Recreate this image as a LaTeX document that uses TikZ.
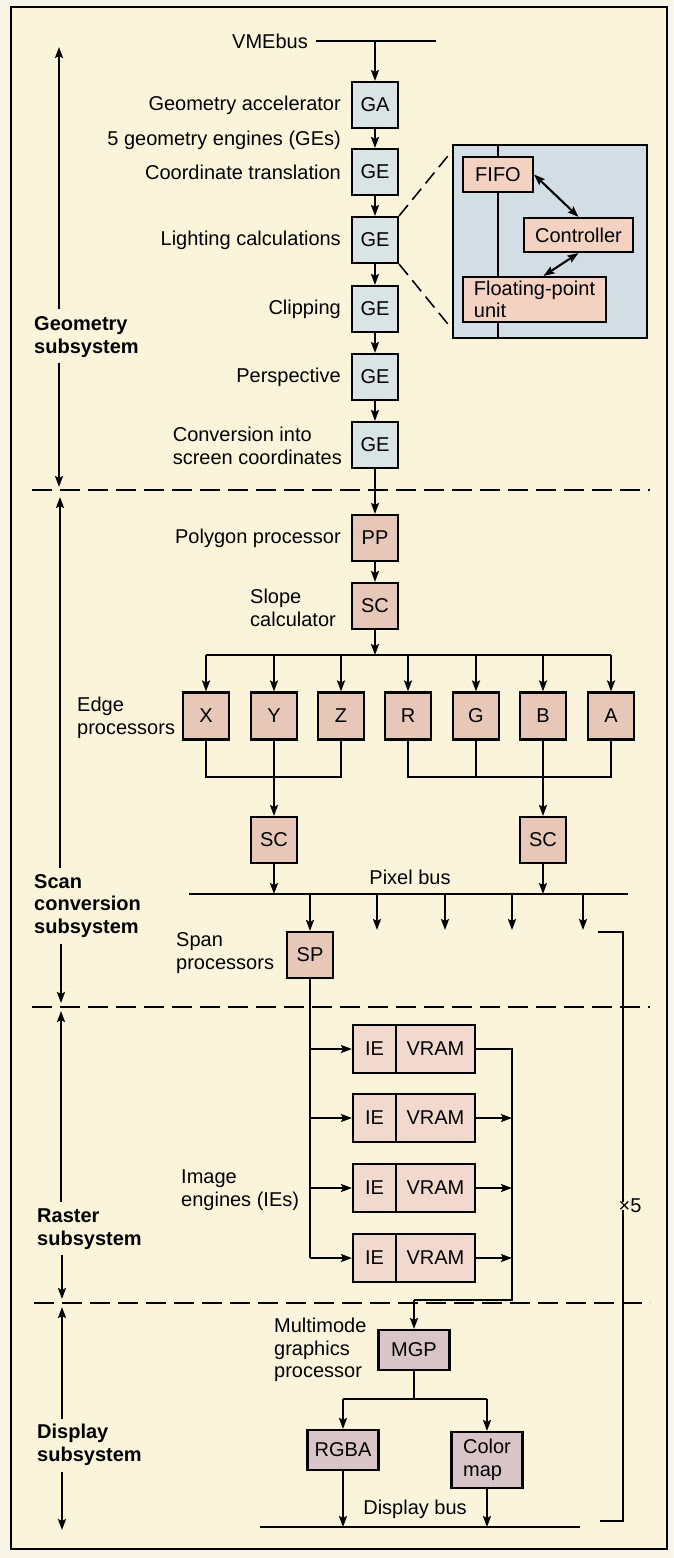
\documentclass[tikz,border=0pt]{standalone}
\usepackage{fontspec}
\setmainfont{Liberation Sans}
\usetikzlibrary{arrows.meta}

\definecolor{paper}{HTML}{F8F5E8}
\definecolor{cream}{HTML}{FAF5DA}
\definecolor{geofill}{HTML}{DAE4E5}
\definecolor{insetfill}{HTML}{D2DEE4}
\definecolor{peach}{HTML}{F4D2C2}
\definecolor{scanfill}{HTML}{E7C7B7}
\definecolor{iefill}{HTML}{F1DACD}
\definecolor{dispfill}{HTML}{D9C5C7}

\begin{document}
\begin{tikzpicture}[x=1pt,y=-1pt,
  txt/.style={font=\fontsize{20}{22.5}\selectfont, inner sep=0pt},
  lbl/.style={txt, align=left},
  subsys/.style={txt, align=left, font=\fontsize{20}{22.5}\selectfont\bfseries},
  wire/.style={line width=2.1pt},
  arr/.style={wire, -{Stealth[length=11pt,width=8pt,inset=2pt]}},
  dbl/.style={wire, {Stealth[length=11pt,width=8pt,inset=2pt]}-{Stealth[length=11pt,width=8pt,inset=2pt]}},
  divider/.style={line width=1.8pt, dash pattern=on 20pt off 8pt},
  zoomln/.style={line width=1.6pt, dash pattern=on 14pt off 7pt},
  blk/.style={draw, line width=2.1pt, txt, minimum width=46pt, minimum height=46pt},
  geo/.style={blk, fill=geofill},
  scan/.style={blk, fill=scanfill},
  ieb/.style={blk, fill=iefill, minimum height=48pt},
  disp/.style={blk, fill=dispfill, minimum width=71pt, minimum height=40pt},
  part/.style={blk, fill=peach}
]
% page and frame
\useasboundingbox (0,0) rectangle (673,1558);
\fill[paper] (0,0) rectangle (673,1558);
\draw[line width=2.8pt, fill=cream] (11,7) rectangle (667,1549);

% subsystem dividers
\coordinate (d1L) at (32,490);  \coordinate (d1R) at (650,490);
\coordinate (d2L) at (32,1007); \coordinate (d2R) at (650,1007);
\coordinate (d3L) at (34,1303); \coordinate (d3R) at (650,1303);
\draw[divider] (d1L) -- (d1R);
\draw[divider] (d2L) -- (d2R);
\draw[divider] (d3L) -- (d3R);

% subsystem labels with extent arrows
\node[subsys, anchor=west] (geoL) at (34,337) {Geometry\\subsystem};
\node[subsys, anchor=west] (scanL) at (34,906) {Scan\\conversion\\subsystem};
\node[subsys, anchor=west] (rastL) at (37,1229) {Raster\\subsystem};
\node[subsys, anchor=west] (dispL) at (37,1445) {Display\\subsystem};
\coordinate (geoTop) at (59,47);
\coordinate (geoBot) at (59,487);
\coordinate (scanTop) at (60,497);
\coordinate (scanBot) at (61,1003);
\coordinate (rastTop) at (61,1011);
\coordinate (rastBot) at (62,1299);
\coordinate (dispTop) at (62,1307);
\coordinate (dispBot) at (62,1530);
\draw[arr] ([yshift=7pt]geoL.north -| geoTop) -- (geoTop);
\draw[arr] ([yshift=-5pt]geoL.south -| geoBot) -- (geoBot);
\draw[arr] ([yshift=6pt]scanL.north -| scanTop) -- (scanTop);
\draw[arr] ([yshift=-6pt]scanL.south -| scanBot) -- (scanBot);
\draw[arr] ([yshift=7pt]rastL.north -| rastTop) -- (rastTop);
\draw[arr] ([yshift=-6pt]rastL.south -| rastBot) -- (rastBot);
\draw[arr] ([yshift=5pt]dispL.north -| dispTop) -- (dispTop);
\draw[arr] ([yshift=-6pt]dispL.south -| dispBot) -- (dispBot);

% geometry pipeline
\node[txt, anchor=east] (vmeL) at (308,41) {VMEbus};
\coordinate (vmeA) at (316,41);
\coordinate (vmeB) at (436,41);
\draw[wire] (vmeA) -- (vmeB);
\node[geo] (GA)  at (375,105) {GA};
\node[geo] (GE1) at (375,172) {GE};
\node[geo] (GE2) at (375,240) {GE};
\node[geo] (GE3) at (375,309) {GE};
\node[geo] (GE4) at (375,377) {GE};
\node[geo] (GE5) at (375,445) {GE};
\draw[arr] (GA.north |- vmeA) -- (GA.north);
\draw[arr] (GA) -- (GE1);
\draw[arr] (GE1) -- (GE2);
\draw[arr] (GE2) -- (GE3);
\draw[arr] (GE3) -- (GE4);
\draw[arr] (GE4) -- (GE5);

\node[lbl, anchor=east] at (341,105) {Geometry accelerator};
\node[lbl, anchor=east] at (341,140) {5 geometry engines (GEs)};
\node[lbl, anchor=east] at (341,172) {Coordinate translation};
\node[lbl, anchor=east] at (341,240) {Lighting calculations};
\node[lbl, anchor=east] at (341,309) {Clipping};
\node[lbl, anchor=east] at (341,377) {Perspective};
\node[lbl, anchor=east] at (342,446) {Conversion into\\screen coordinates};

% geometry engine detail
\node[draw, fill=insetfill, line width=2.1pt, minimum width=194pt, minimum height=193pt, inner sep=0pt] (inset) at (550,241.5) {};
\node[part, minimum width=70pt, minimum height=35pt] (FIFO) at (498,174.5) {FIFO};
\draw[wire] (FIFO.center |- inset.north) -- (FIFO.center |- inset.south);
\node[part, minimum width=70pt, minimum height=35pt] (FIFO) at (498,174.5) {FIFO};
\node[part, minimum width=109pt, minimum height=34pt] (CTRL) at (578.5,235) {Controller};
\node[part, minimum width=143pt, minimum height=45pt, align=left] (FPU) at (534.5,299.5) {Floating-point\\unit};
\draw[dbl] (FIFO.east) -- (CTRL.north);
\draw[dbl] (CTRL.south) -- ([xshift=9pt]FPU.north);
\draw[zoomln] (GE2.north east) -- ([yshift=-7pt]inset.north west);
\draw[zoomln] (GE2.south east) -- ([yshift=10pt]inset.south west);

% scan conversion
\node[scan] (PP) at (375,538) {PP};
\node[scan] (SC) at (375,606) {SC};
\draw[arr] (GE5) -- (PP);
\draw[arr] (PP) -- (SC);
\node[lbl, anchor=east] at (341,538) {Polygon processor};
\node[lbl, anchor=east] at (336,608) {Slope\\calculator};

\node[scan, minimum height=47pt] (EX) at (206,716) {X};
\node[scan, minimum height=47pt] (EY) at (274,716) {Y};
\node[scan, minimum height=47pt] (EZ) at (341,716) {Z};
\node[scan, minimum height=47pt] (ER) at (408,716) {R};
\node[scan, minimum height=47pt] (EG) at (476,716) {G};
\node[scan, minimum height=47pt] (EB) at (543,716) {B};
\node[scan, minimum height=47pt] (EA) at (611,716) {A};
\node[lbl, anchor=west] at (77,718) {Edge\\processors};

\coordinate (split) at (375,655);
\draw[arr] (SC) -- (split);
\draw[wire] (EX.north |- split) -- (EA.north |- split);
\foreach \e in {EX,EY,EZ,ER,EG,EB,EA}
  \draw[arr] (\e.north |- split) -- (\e.north);

\node[scan] (SCL) at (274,840) {SC};
\node[scan] (SCR) at (543,840) {SC};
\coordinate (jxyz) at (274,777);
\coordinate (jrgba) at (543,777);
\draw[wire] (EX.south) |- (jxyz) -| (EZ.south);
\draw[wire] (ER.south) |- (jrgba) -| (EA.south);
\draw[wire] (EG.south) -- (EG.south |- jrgba);
\draw[arr] (EY.south) -- (SCL.north);
\draw[arr] (EB.south) -- (SCR.north);

% pixel bus
\coordinate (pbL) at (189,894);
\coordinate (pbR) at (628,894);
\draw[wire] (pbL) -- (pbR);
\node[txt] at (410,877) {Pixel bus};
\draw[arr] (SCL.south) -- (SCL.south |- pbL);
\draw[arr] (SCR.south) -- (SCR.south |- pbL);

\node[scan] (SP) at (310,955) {SP};
\node[lbl, anchor=west] at (176,953) {Span\\processors};
\draw[arr] (SP.north |- pbL) -- (SP.north);
\coordinate (drop1) at (377,930);
\coordinate (drop2) at (445,930);
\coordinate (drop3) at (512,930);
\coordinate (drop4) at (583,930);
\foreach \d in {drop1,drop2,drop3,drop4}
  \draw[arr] (\d |- pbL) -- (\d);

% repeat bracket
\node[txt] (x5) at (630,1206) {×5};
\coordinate (brT) at (598,932);
\coordinate (brB) at (600,1521);
\coordinate (brX) at (623,0);
\draw[wire] (brT) -| ([yshift=-3pt]brX |- x5.north);
\draw[wire] ([yshift=3pt]brX |- x5.south) |- (brB);

% raster: image engines
\foreach \i/\y in {1/1049,2/1118,3/1188,4/1258} {
  \node[ieb, minimum width=43pt] (IE\i) at (374.5,\y) {IE};
  \node[ieb, minimum width=79pt] (VR\i) at (435.5,\y) {VRAM};
}
\node[lbl, anchor=west] at (181,1190) {Image\\engines (IEs)};
\draw[wire] (SP.south) -- (SP.south |- IE4.west);
\foreach \i in {1,2,3,4}
  \draw[arr] (SP.south |- IE\i.west) -- (IE\i.west);

\coordinate (rbus) at (512,1300);
\draw[wire] (VR1.east) -| (rbus) -- (rbus -| 414,0);
\foreach \i in {2,3,4}
  \draw[arr] (VR\i.east) -- (VR\i.east -| rbus);

% display
\node[disp] (MGP) at (414,1350) {MGP};
\draw[arr] (MGP.north |- rbus) -- (MGP.north);
\node[lbl, anchor=west] at (274,1350) {Multimode\\graphics\\processor};

\node[disp] (RGBA) at (343,1450) {RGBA};
\node[disp, minimum height=56pt, align=left] (CMAP) at (487,1460) {Color\\map};
\coordinate (dsplit) at (414,1399);
\draw[wire] (MGP.south) -- (dsplit);
\draw[wire] (RGBA.north |- dsplit) -- (CMAP.north |- dsplit);
\draw[arr] (RGBA.north |- dsplit) -- (RGBA.north);
\draw[arr] (CMAP.north |- dsplit) -- (CMAP.north);

\coordinate (dbL) at (260,1527);
\coordinate (dbR) at (580,1527);
\draw[wire] (dbL) -- (dbR);
\node[txt] at (415,1509) {Display bus};
\draw[arr] (RGBA.south) -- (RGBA.south |- dbL);
\draw[arr] (CMAP.south) -- (CMAP.south |- dbL);
\end{tikzpicture}
\end{document}
